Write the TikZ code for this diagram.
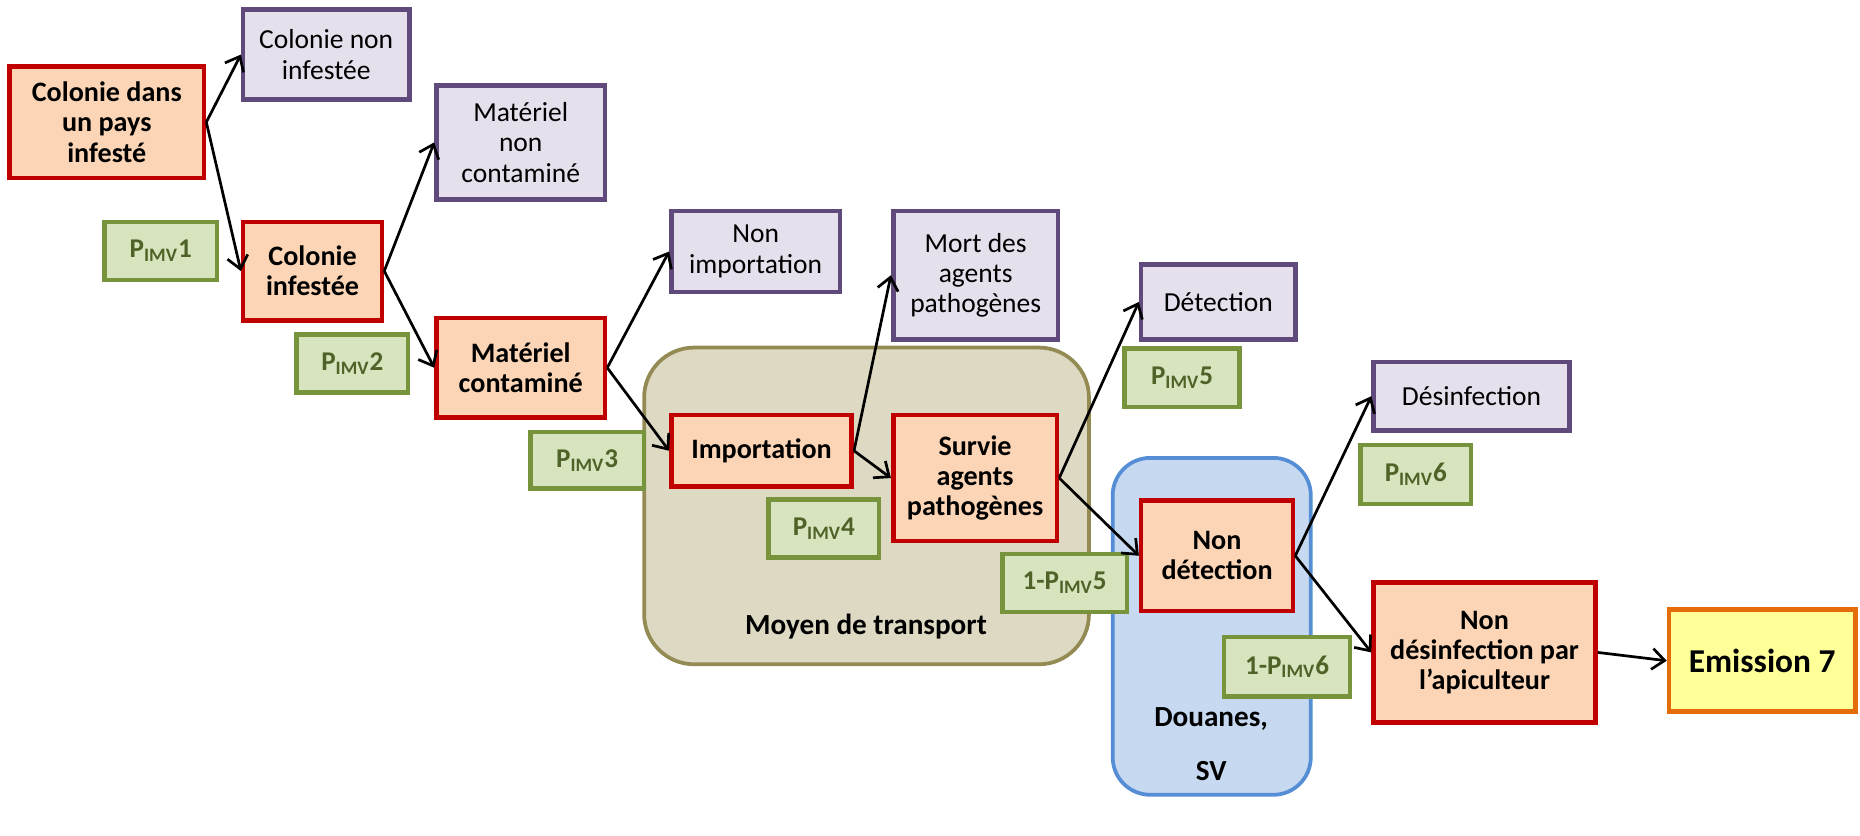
\documentclass[tikz,border=0pt]{standalone}
\usepackage{fontspec}
\setmainfont{Carlito}
\usetikzlibrary{arrows.meta}
\definecolor{redb}{HTML}{C00000}
\definecolor{redf}{HTML}{FBD5B5}
\definecolor{purb}{HTML}{604A7B}
\definecolor{purf}{HTML}{E5E0EC}
\definecolor{grnb}{HTML}{77933C}
\definecolor{grnf}{HTML}{D7E4BD}
\definecolor{grnt}{HTML}{4F6228}
\definecolor{tanb}{HTML}{948A54}
\definecolor{tanf}{HTML}{DDD9C3}
\definecolor{blub}{HTML}{558ED5}
\definecolor{bluf}{HTML}{C6D9F1}
\definecolor{orab}{HTML}{E46C0A}
\definecolor{oraf}{HTML}{FFFF99}
\newcommand\mybox[7]{\node[#2, minimum width={(#5-#3)*0.02cm}, minimum height={(#6-#4)*0.02cm}] (#1) at ({(#3+#5)/2},{(#4+#6)/2}) {#7};}
\newcommand\pimv[1]{P\textsubscript{IMV}#1}
\begin{document}
\begin{tikzpicture}[x=0.02cm,y=-0.02cm,
 box/.style={draw, line width=2.2pt, inner sep=0pt, align=center},
 redbox/.style={box, draw=redb, fill=redf, font=\fontsize{13.5}{14.5}\selectfont\bfseries},
 purbox/.style={box, draw=purb, fill=purf, font=\fontsize{13.2}{14.5}\selectfont},
 grnbox/.style={box, draw=grnb, fill=grnf, text=grnt, font=\fontsize{13}{15}\selectfont\bfseries},
 orabox/.style={box, draw=orab, fill=oraf, font=\fontsize{16}{18}\selectfont\bfseries},
 container/.style={draw, line width=1.8pt, inner sep=0pt},
 lbl/.style={align=center, inner sep=0pt, font=\fontsize{14}{15}\selectfont\bfseries},
 arr/.style={line width=1.3pt, -{Straight Barb[length=6pt,width=10pt,line width=1.3pt]}}
]
\useasboundingbox (0,0) rectangle (1568,704);
% containers
\mybox{moyen}{container, draw=tanb, fill=tanf, rounded corners=24pt}{543}{293}{918}{560}{}
\node[lbl] (moyenlbl) at (730,528) {Moyen de transport};
\mybox{douanes}{container, draw=blub, fill=bluf, rounded corners=18pt}{938}{386}{1105}{670}{}
\node[lbl] (douaneslbl) at (1021,627) {Douanes,\\[11pt]SV};
% red boxes
\mybox{c0}{redbox}{8}{56}{172}{150}{Colonie dans\\un pays\\infesté}
\mybox{c1}{redbox}{205}{187}{322}{270}{Colonie\\infestée}
\mybox{m1}{redbox}{368}{268}{510}{352}{Matériel\\contaminé}
\mybox{i1}{redbox}{566}{350}{718}{410}{Importation}
\mybox{s1}{redbox}{753}{350}{891}{456}{Survie\\agents\\pathogènes}
\mybox{d1}{redbox}{962}{422}{1090}{515}{Non\\détection}
\mybox{n1}{redbox}{1158}{491}{1345}{609}{Non\\désinfection par\\l’apiculteur}
\mybox{em}{orabox}{1407}{514}{1564}{600}{Emission 7}
% purple boxes
\mybox{c0n}{purbox}{205}{8}{345}{84}{Colonie non\\infestée}
\mybox{m0}{purbox}{368}{72}{510}{168}{Matériel\\non\\contaminé}
\mybox{i0}{purbox}{566}{178}{708}{246}{Non\\importation}
\mybox{s0}{purbox}{753}{178}{892}{286}{Mort des\\agents\\pathogènes}
\mybox{d0}{purbox}{962}{223}{1092}{286}{Détection}
\mybox{n0}{purbox}{1158}{305}{1323}{363}{Désinfection}
% green boxes
\mybox{p1}{grnbox}{88}{187}{183}{236}{\pimv{1}}
\mybox{p2}{grnbox}{250}{282}{344}{331}{\pimv{2}}
\mybox{p3}{grnbox}{447}{364}{543}{412}{\pimv{3}}
\mybox{p4}{grnbox}{648}{421}{741}{470}{\pimv{4}}
\mybox{p5}{grnbox}{948}{294}{1045}{343}{\pimv{5}}
\mybox{q5}{grnbox}{845}{467}{950}{516}{1-\pimv{5}}
\mybox{p6}{grnbox}{1147}{375}{1240}{425}{\pimv{6}}
\mybox{q6}{grnbox}{1032}{537}{1138}{587}{1-\pimv{6}}
% arrows
\draw[arr] (c0.east) -- (c0n.west);
\draw[arr] (c0.east) -- (c1.west);
\draw[arr] (c1.east) -- (m0.west);
\draw[arr] (c1.east) -- (m1.west);
\draw[arr] (m1.east) -- (i0.west);
\draw[arr] (m1.east) -- (i1.west);
\draw[arr] (i1.east) -- (s0.west);
\draw[arr] (i1.east) -- (s1.west);
\draw[arr] (s1.east) -- (d0.west);
\draw[arr] (s1.east) -- (d1.west);
\draw[arr] (d1.east) -- (n0.west);
\draw[arr] (d1.east) -- (n1.west);
\draw[arr] (n1.east) -- (em.west);
\end{tikzpicture}
\end{document}
